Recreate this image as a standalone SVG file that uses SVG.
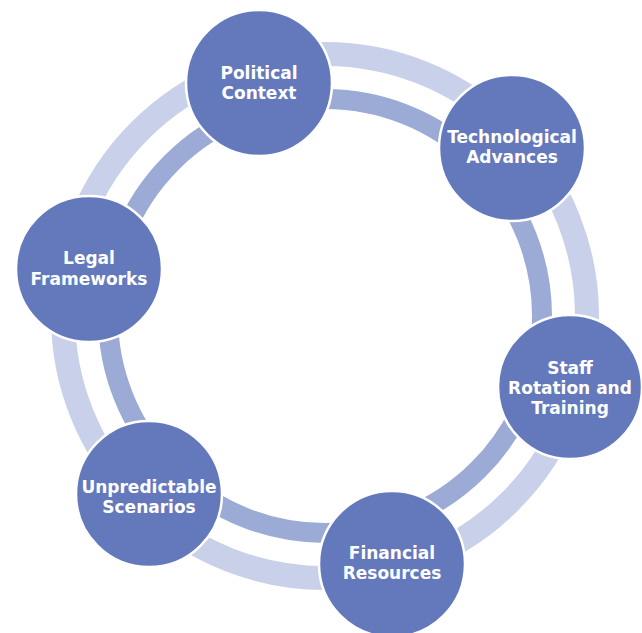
<svg xmlns="http://www.w3.org/2000/svg" width="642" height="633" viewBox="0 0 642 633">
<style>
.node circle{fill:#6479BC;stroke:#fff;stroke-width:2.5}
.node text{fill:#fff;font-family:"DejaVu Sans","Open Sans",sans-serif;font-weight:700;font-size:17px;text-anchor:middle}
.ring-outer{fill:none;stroke:#C9D1EA;stroke-width:24}
.ring-inner{fill:none;stroke:#9BABD6;stroke-width:20}
</style>
<rect width="642" height="633" fill="#fff"/>
<g id="connectors">
<circle class="ring-outer" cx="325" cy="316" r="262"/>
<circle class="ring-inner" cx="325" cy="316" r="217"/>
</g>
<g id="node-political" class="node">
<circle cx="259" cy="83" r="73"/>
<text x="259" y="79">Political</text>
<text x="259" y="99">Context</text>
</g>
<g id="node-technological" class="node">
<circle cx="512" cy="148" r="73"/>
<text x="512" y="143">Technological</text>
<text x="512" y="163">Advances</text>
</g>
<g id="node-staff" class="node">
<circle cx="570" cy="387" r="72"/>
<text x="570" y="374">Staff</text>
<text x="570" y="394">Rotation and</text>
<text x="570" y="414">Training</text>
</g>
<g id="node-financial" class="node">
<circle cx="392" cy="564" r="73"/>
<text x="392" y="559">Financial</text>
<text x="392" y="579">Resources</text>
</g>
<g id="node-unpredictable" class="node">
<circle cx="149" cy="494" r="73"/>
<text x="149" y="493">Unpredictable</text>
<text x="149" y="513">Scenarios</text>
</g>
<g id="node-legal" class="node">
<circle cx="89" cy="269" r="73"/>
<text x="89" y="264">Legal</text>
<text x="89" y="285">Frameworks</text>
</g>
</svg>
